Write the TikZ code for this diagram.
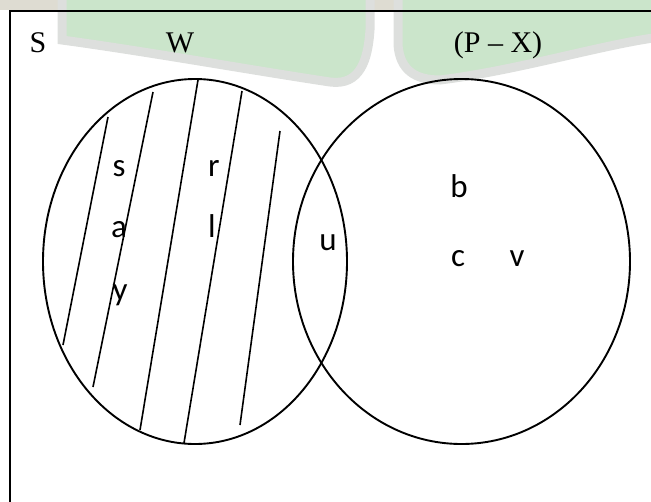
\documentclass[tikz,border=0pt]{standalone}
\usepackage{fontspec}
\setmainfont{Liberation Serif}
\newfontfamily\eltfont{Carlito}
\usepackage{tikz}
\usetikzlibrary{positioning}
\definecolor{cInk}{HTML}{000000}
\definecolor{cMark}{HTML}{CBE5CB}
\definecolor{cHalo}{HTML}{DDDFDD}
\definecolor{cBand}{HTML}{DEDCD2}
\tikzset{
  setline/.style ={line width=1.9pt,cInk},
  hatch/.style   ={line width=1.6pt,cInk},
  wmark/.style   ={draw=cHalo,line width=9pt,fill=cMark},
  title/.style   ={font=\fontsize{30}{36}\selectfont,
                   anchor=base,inner sep=0pt},
  elt/.style     ={font=\eltfont\fontsize{33}{40}\selectfont,
                   anchor=base,inner sep=0pt},
}

\begin{document}
\begin{tikzpicture}[x=1pt,y=-1pt]
\useasboundingbox (0,0) rectangle (651,501);
\clip (0,0) rectangle (651,501);
% faint watermark behind the top
\fill[cBand] (0,0) rectangle (651,10);
\path[wmark] (62,-20) -- (62,40) .. controls (150,52) and (250,70) .. (330,82)
   .. controls (360,86) and (368,60) .. (370,30) -- (370,-20) -- cycle;
\path[wmark] (398,-20) -- (398,45) .. controls (400,70) and (415,80) .. (440,80)
   .. controls (520,70) and (600,45) .. (660,37) -- (660,-20) -- cycle;

% universal set frame
\coordinate (fr) at (680,11);
\coordinate (fb) at (10,530);
\draw[setline] (fr) -| (fb);

% the two sets
\coordinate (cW) at (195,261.5);
\coordinate (cP) at (461.5,261.5);
\draw[setline] (cW) ellipse [x radius=152, y radius=182.5];
\draw[setline] (cP) ellipse [x radius=168.5, y radius=182.5];

% shading of W
\foreach \xa/\ya/\xb/\yb in {108/117/63/345, 153/92/93/387, 198/80/140/430,
                             242/91/184/443, 280/131/240/425}
  \draw[hatch] (\xa,\ya) -- (\xb,\yb);

% set names
\node[title] (lblS)  at (38,52)  {S};
\node[title] (lblW)  at (180,52) {W};
\node[title] (lblPX) at (498,52) {(P – X)};

% elements
\node[elt] (es) at (119,176) {s};
\node[elt] (er) at (214,176) {r};
\node[elt] (ea) at (119,237) {a};
\node[elt] (el) at (212,237) {l};
\node[elt] (ey) at (120,300) {y};
\node[elt] (eu) at (328,250) {u};
\node[elt] (eb) at (459,197) {b};
\node[elt] (ec) at (458,266) {c};
\node[elt] (ev) at (517,266) {v};
\end{tikzpicture}
\end{document}
